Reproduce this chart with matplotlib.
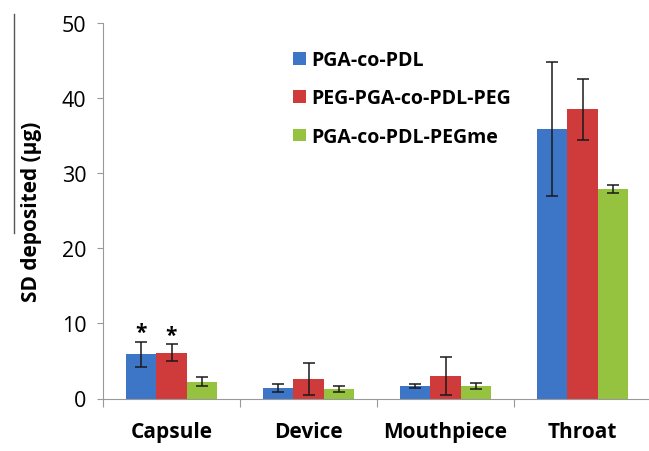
import numpy as np
import matplotlib.pyplot as plt
from matplotlib.lines import Line2D

plt.rcParams['font.family'] = ['Open Sans', 'DejaVu Sans']

# deposition per region for the three polymer carriers
regions = ['Capsule', 'Device', 'Mouthpiece', 'Throat']
series = ['PGA-co-PDL', 'PEG-PGA-co-PDL-PEG', 'PGA-co-PDL-PEGme']
pga = [5.9, 1.4, 1.65, 35.9]
pga_err = [1.65, 0.5, 0.3, 8.9]
peg = [6.1, 2.6, 3.0, 38.5]
peg_err = [1.1, 2.1, 2.5, 4.1]
pegme = [2.2, 1.2, 1.6, 27.9]
pegme_err = [0.6, 0.4, 0.4, 0.55]
colors = ['#3D76C6', '#CF3B3B', '#95C23F']
starred = [(0, 0), (1, 0)]  # (series, region) marked significant

fig = plt.figure(figsize=(6.49, 4.52), dpi=100)
ax = fig.add_axes([103 / 649, 52.5 / 452, 548 / 649, 375.5 / 452])

x = np.arange(len(regions)) + 0.5
w = 0.22
vals = [pga, peg, pegme]
errs = [pga_err, peg_err, pegme_err]
for i, (v, e) in enumerate(zip(vals, errs)):
    ax.bar(x + (i - 1) * w, v, w, color=colors[i], label=series[i],
           yerr=e, error_kw=dict(ecolor='#1a1a1a', elinewidth=1.1, capsize=4, capthick=1.1),
           zorder=2)

for s, r in starred:
    top = vals[s][r] + errs[s][r]
    ax.annotate('*', (x[r] + (s - 1) * w, top), xytext=(0, -1), textcoords='offset points',
                ha='center', va='bottom', fontsize=15, fontweight='bold')

ax.set_xlim(0, 4)
ax.set_ylim(0, 50)
ax.set_yticks(np.arange(0, 51, 10))
ax.set_xticks(np.arange(0, 5))
ax.set_xticklabels([])
ax.set_xticks(x, minor=True)
ax.set_xticklabels(regions, minor=True, fontsize=15, fontweight='bold')
ax.tick_params(axis='x', which='minor', length=0, pad=16)
ax.tick_params(axis='x', which='major', length=6, color='#999999', direction='out')
ax.tick_params(axis='y', length=4, color='#999999', labelsize=15.5, pad=8)
for sp in ['top', 'right']:
    ax.spines[sp].set_visible(False)
for sp in ['left', 'bottom']:
    ax.spines[sp].set_color('#999999')
ax.set_ylabel('SD deposited (µg)', fontsize=15, fontweight='bold', labelpad=14)

ax.legend(loc='upper left', bbox_to_anchor=(0.315, 0.975), frameon=False,
          prop=dict(weight='bold', size=14), handlelength=0.65, handleheight=0.65,
          handletextpad=0.3, labelspacing=0.95)

fig.add_artist(Line2D([14 / 649, 14 / 649], [1 - 15 / 452, 1 - 234 / 452], color='#555555', lw=1))

fig.savefig('out.png', dpi=100)
